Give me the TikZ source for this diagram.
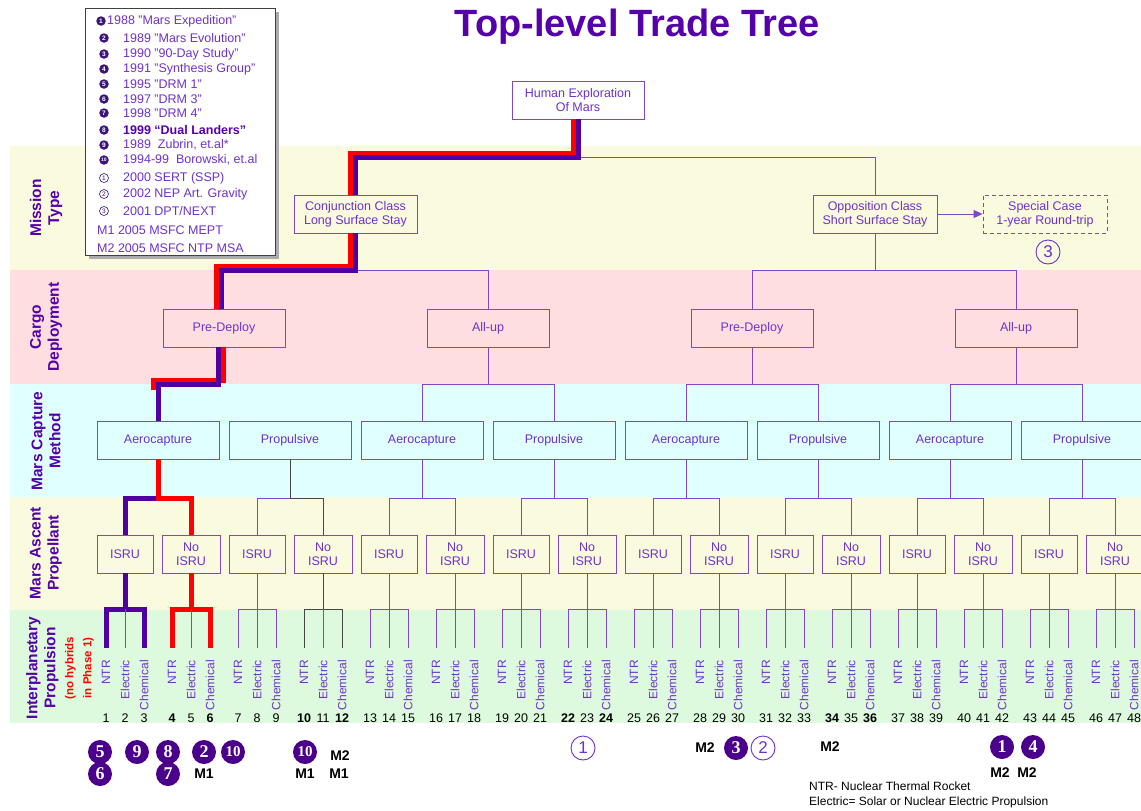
\documentclass[tikz,border=0pt]{standalone}
\usepackage{fontspec}
\setmainfont{Liberation Sans}
\newfontfamily\tnr{Liberation Serif}
\usetikzlibrary{calc,arrows.meta}
\definecolor{bandY}{RGB}{250,250,222}
\definecolor{bandP}{RGB}{255,222,226}
\definecolor{bandC}{RGB}{224,255,255}
\definecolor{bandG}{RGB}{222,250,222}
\definecolor{boxcol}{RGB}{130,70,200}
\definecolor{txtcol}{RGB}{110,50,200}
\definecolor{headcol}{RGB}{85,0,170}
\definecolor{hiblue}{RGB}{80,0,160}
\definecolor{hired}{RGB}{255,0,0}
\definecolor{graycon}{RGB}{70,70,70}
\definecolor{markcol}{RGB}{75,0,140}
\definecolor{bulcol}{RGB}{60,20,120}
\begin{document}
\begin{tikzpicture}[x=1pt,y=-1pt,
  tbox/.style={draw=boxcol, line width=0.9pt, text=txtcol, font=\fontsize{12.5}{14}\selectfont, align=center, minimum height=38pt, inner sep=0pt},
  conn/.style={draw=boxcol, line width=0.9pt},
  gconn/.style={draw=graycon, line width=0.9pt},
  hb/.style={draw=hiblue, line width=5pt},
  hr/.style={draw=hired, line width=5pt},
  leaf/.style={rotate=90, anchor=east, text=txtcol, font=\fontsize{12}{12}\selectfont, inner sep=0pt},
  num/.style={text=black, font=\fontsize{12.5}{12.5}\selectfont, inner sep=0pt},
  side/.style={rotate=90, text=headcol, font=\bfseries\fontsize{15.5}{18}\selectfont, align=center, inner sep=0pt},
  legtxt/.style={anchor=west, text=txtcol, font=\fontsize{12.5}{12.5}\selectfont, inner sep=0pt},
  legbul/.style={circle, fill=bulcol, text=white, font=\bfseries\fontsize{6.5}{6.5}\selectfont, minimum size=9.5pt, inner sep=0pt},
  legopen/.style={circle, draw=bulcol, line width=0.6pt, text=bulcol, font=\fontsize{6.5}{6.5}\selectfont, minimum size=9pt, inner sep=0pt},
  fmark/.style={circle, fill=markcol, text=white, font=\tnr\bfseries\fontsize{18}{18}\selectfont, minimum size=24pt, inner sep=0pt},
  omark/.style={circle, draw=txtcol, line width=0.9pt, text=txtcol, font=\fontsize{17}{17}\selectfont, minimum size=24pt, inner sep=0pt},
  mlab/.style={text=black, font=\bfseries\fontsize{14}{14}\selectfont, inner sep=0pt},
  note/.style={anchor=west, text=black, font=\fontsize{12}{12}\selectfont, inner sep=0pt}
]
\useasboundingbox (0,0) rectangle (1141,811);
\fill[white] (0,0) rectangle (1141,811);
% bands
\fill[bandY] (10,146) rectangle (1141,270);
\fill[bandP] (10,270) rectangle (1141,384);
\fill[bandC] (10,384) rectangle (1141,497);
\fill[bandY] (10,497) rectangle (1141,610);
\fill[bandG] (10,610) rectangle (1141,723);

% side labels
\node[side] (s1) at (46,208) {Mission\\Type};
\node[side] (s2) at (46,327) {Cargo\\Deployment};
\node[side] (s3) at (46,441) {Mars Capture\\Method};
\node[side] (s4) at (46,553) {Mars Ascent\\Propellant};
\node[side] (s5) at (60,668) {Interplanetary\\Propulsion\\{\color{red}\fontsize{11.5}{14}\selectfont (no hybrids}\\{\color{red}\fontsize{11.5}{14}\selectfont in Phase 1)}};

% title
\node[text=headcol, font=\bfseries\fontsize{38}{38}\selectfont, anchor=base, inner sep=0pt] (title) at (637,36) {Top-level Trade Tree};

% legend
\fill[gray!65] (89,12) rectangle (279,259);
\draw[draw=black!75, fill=white, line width=0.8pt] (85,8) rectangle (275,255);
\node[legbul] (b1) at (101,21) {1};
\node[legtxt] (t1) at (107,21) {1988 "Mars Expedition"};
\node[legbul] (b2) at (104,38) {2};
\node[legtxt] (t2) at (123,38) {1989 "Mars Evolution"};
\node[legbul] (b3) at (104,54) {3};
\node[legtxt] (t3) at (123,54) {1990 "90-Day Study"};
\node[legbul] (b4) at (104,69) {4};
\node[legtxt] (t4) at (123,69) {1991 "Synthesis Group"};
\node[legbul] (b5) at (104,84) {5};
\node[legtxt] (t5) at (123,84) {1995 "DRM 1"};
\node[legbul] (b6) at (104,99) {6};
\node[legtxt] (t6) at (123,99) {1997 "DRM 3"};
\node[legbul] (b7) at (104,113) {7};
\node[legtxt] (t7) at (123,113) {1998 "DRM 4"};
\node[legbul] (b8) at (104,130) {8};
\node[legtxt, text=headcol, font=\bfseries\fontsize{12.5}{12.5}\selectfont] (t8) at (123,130) {1999 “Dual Landers”};
\node[legbul] (b9) at (104,145) {9};
\node[legtxt] (t9) at (123,145) {1989\ \ Zubrin, et.al*};
\node[legbul, font=\bfseries\fontsize{5}{5}\selectfont] (b10) at (104,160) {10};
\node[legtxt] (t10) at (123,160) {1994-99\ \ Borowski, et.al};
\node[legopen] (b11) at (104,178) {1};
\node[legtxt] (t11) at (123,178) {2000 SERT (SSP)};
\node[legopen] (b12) at (104,194) {2};
\node[legtxt] (t12) at (123,194) {2002 NEP Art. Gravity};
\node[legopen] (b13) at (104,211) {3};
\node[legtxt] (t13) at (123,211) {2001 DPT/NEXT};
\node[legtxt] (t14) at (97,230) {M1 2005 MSFC MEPT};
\node[legtxt] (t15) at (97,248) {M2 2005 MSFC NTP MSA};

% tree nodes
\node[tbox, fill=white, minimum width=132pt] (root) at (578,100) {Human Exploration\\Of Mars};
\node[tbox, fill=bandY, minimum width=123pt] (conj) at (355.5,214) {Conjunction Class\\Long Surface Stay};
\node[tbox, fill=bandY, minimum width=124pt] (opp) at (875,214) {Opposition Class\\Short Surface Stay};
\node[tbox, fill=bandY, dash pattern=on 4pt off 3pt, minimum width=124pt] (spec) at (1045,214) {Special Case\\1-year Round-trip};
\node[omark] (o3) at (1048,252) {3};

\coordinate (R0) at (578,157);
\coordinate (R1) at (875,157);
\coordinate (Yc) at (355.5,270);
\coordinate (Yo) at (875,270);

\foreach \i/\lab in {0/Pre-Deploy,1/All-up,2/Pre-Deploy,3/All-up}{
  \pgfmathsetmacro\cx{224+264*\i}
  \node[tbox, fill=bandP, minimum width=122pt] (G\i) at (\cx,328) {\lab};
  \coordinate (W\i) at (\cx,384);
  \coordinate (Y\i) at (\cx,270);
}
\foreach \j/\lab in {0/Aerocapture,1/Propulsive,2/Aerocapture,3/Propulsive,4/Aerocapture,5/Propulsive,6/Aerocapture,7/Propulsive}{
  \pgfmathsetmacro\cx{158+132*\j}
  \node[tbox, fill=bandC, minimum width=122pt] (C\j) at (\cx,440) {\lab};
  \coordinate (V\j) at (\cx,498);
  \coordinate (X\j) at (\cx,384);
}
\foreach \k in {0,...,15}{
  \pgfmathsetmacro\cx{125+66*\k}
  \pgfmathtruncatemacro\na{3*\k+1}
  \pgfmathtruncatemacro\nb{3*\k+2}
  \pgfmathtruncatemacro\nc{3*\k+3}
  \pgfmathtruncatemacro\odd{mod(\k,2)}
  \ifnum\odd=0
    \node[tbox, fill=bandY, minimum width=56pt] (A\k) at (\cx,554) {ISRU};
  \else
    \node[tbox, fill=bandY, minimum width=58pt] (A\k) at (\cx,554) {No\\ISRU};
  \fi
  \coordinate (U\k) at (\cx,498);
  \coordinate (T\na) at (\cx-19,609);
  \coordinate (T\nb) at (\cx,609);
  \coordinate (T\nc) at (\cx+19,609);
  \coordinate (E\na) at (\cx-19,648);
  \coordinate (E\nb) at (\cx,648);
  \coordinate (E\nc) at (\cx+19,648);
  \node[leaf] (L\na) at (\cx-19,660) {NTR};
  \node[leaf] (L\nb) at (\cx,660) {Electric};
  \node[leaf] (L\nc) at (\cx+19,660) {Chemical};
}
\foreach \n in {1,...,48}{
  \pgfmathtruncatemacro\kk{int((\n-1)/3)}
  \pgfmathtruncatemacro\mm{\n-1-3*\kk}
  \pgfmathsetmacro\nx{125+66*\kk+19*(\mm-1)}
  \pgfmathtruncatemacro\isb{(\n==4)||(\n==6)||(\n==10)||(\n==12)||(\n==22)||(\n==24)||(\n==34)||(\n==36)}
  \node[num] (N\n) at (\nx,718) {\ifnum\isb=1 \bfseries\fi\n};
}

% thin connectors
\draw[conn] (R0) -- (R1) -- (opp.north);
\draw[conn] (Yc) -- (Y1) -- (G1.north);
\draw[conn] (opp.south) -- (Yo);
\draw[conn] (G2.north) -- (Y2) -- (Y3) -- (G3.north);
\draw[conn, -{Triangle[length=9pt,width=8pt]}] (opp.east) -- (spec.west);
\foreach \i in {1,2,3}{
  \pgfmathtruncatemacro\a{2*\i}
  \pgfmathtruncatemacro\b{2*\i+1}
  \draw[conn] (G\i.south) -- (W\i);
  \draw[conn] (C\a.north) -- (X\a) -- (X\b) -- (C\b.north);
}
\foreach \j in {2,...,7}{
  \pgfmathtruncatemacro\a{2*\j}
  \pgfmathtruncatemacro\b{2*\j+1}
  \draw[conn] (C\j.south) -- (V\j);
  \draw[conn] (A\a.north) -- (U\a) -- (U\b) -- (A\b.north);
}
\draw[conn] (A2.north) -- (U2) -- (V1);
\draw[gconn] (C1.south) -- (V1) -- (U3) -- (A3.north);
\foreach \k in {2,4,5,6,7,8,9,10,11,12,13,14,15}{
  \pgfmathtruncatemacro\na{3*\k+1}
  \pgfmathtruncatemacro\nb{3*\k+2}
  \pgfmathtruncatemacro\nc{3*\k+3}
  \draw[conn] (A\k.south) -- (E\nb);
  \draw[conn] (E\na) -- (T\na) -- (T\nc) -- (E\nc);
}
\draw[gconn] (A3.south) -- (T11);
\draw[gconn] (E10) -- (T10) -- (T12) -- (E12);
\draw[conn] (T11) -- (E11);

% highlighted paths
\draw[hr] ($(root.south)+(-5,0)$) -- (573,153) -- (350.5,153) -- ($(conj.north)+(-5,0)$);
\draw[hb] (root.south) -- (R0) -- (355.5,157) -- (conj.north);
\draw[hr] ($(conj.south)+(-5,0)$) -- (350.5,266) -- (216,266) -- ($(G0.north)+(-8,0)$);
\draw[hb] (conj.south) -- (Yc) -- (221,270) -- ($(G0.north)+(-3,0)$);
\draw[hr] ($(G0.south)+(-1,0)$) -- (223,380) -- (153,380) -- (153,390);
\draw[hb] ($(G0.south)+(-6,0)$) -- (218,384) -- (158,384) -- (C0.north);
\draw[hb] (A0.north) -- (U0) -- (V0);
\draw[hr] (C0.south) -- (V0) -- (U1) -- (A1.north);
\draw[hb] (A0.south) -- (T2);
\draw[hb] (E1) -- (T1) -- (T3) -- (E3);
\draw[hr] (A1.south) -- (T5);
\draw[hr] (E4) -- (T4) -- (T6) -- (E6);
\draw[conn] (T2) -- (E2);
\draw[conn] (T5) -- (E5);

% bottom markers
\node[fmark] (m5) at (100,752) {5};
\node[fmark] (m6) at (100,774) {6};
\node[fmark] (m9) at (137,752) {9};
\node[fmark] (m8) at (168,752) {8};
\node[fmark] (m7) at (168,774) {7};
\node[fmark] (m2) at (204,752) {2};
\node[mlab] (mA) at (204,774) {M1};
\node[fmark, font=\tnr\bfseries\fontsize{15}{15}\selectfont] (m10a) at (233,752) {10};
\node[fmark, font=\tnr\bfseries\fontsize{15}{15}\selectfont] (m10b) at (305,752) {10};
\node[mlab] (mB) at (305,774) {M1};
\node[mlab] (mC) at (340,756) {M2};
\node[mlab] (mD) at (339,774) {M1};
\node[omark] (o1) at (583,748) {1};
\node[mlab] (mE) at (705,748) {M2};
\node[fmark] (m3) at (736,748) {3};
\node[omark] (o2) at (763,748) {2};
\node[mlab] (mF) at (830,747) {M2};
\node[fmark] (m1) at (1002,747) {1};
\node[fmark] (m4) at (1033,747) {4};
\node[mlab] (mG) at (1000,773) {M2};
\node[mlab] (mH) at (1027,773) {M2};
\node[note] (n1) at (809,786) {NTR- Nuclear Thermal Rocket};
\node[note] (n2) at (809,802) {Electric= Solar or Nuclear Electric Propulsion};
\end{tikzpicture}
\end{document}
